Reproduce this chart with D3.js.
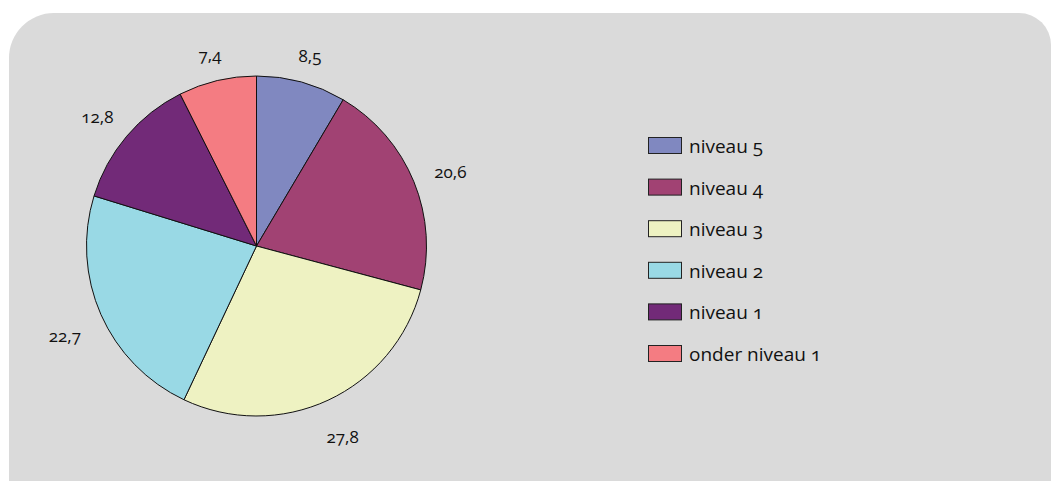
<!DOCTYPE html>
<html>
<head>
<meta charset="utf-8">
<script src="https://cdn.jsdelivr.net/npm/d3@7"></script>
<style>
  html, body { margin: 0; padding: 0; background: #ffffff; }
  svg { display: block; }
  text { font-family: "Open Sans", "DejaVu Sans", sans-serif; fill: #111; font-feature-settings: "onum"; }
</style>
</head>
<body>
<svg id="chart" width="1051" height="481"></svg>
<script>
// Share of pupils per proficiency level (percent)
const categories = ["niveau 5", "niveau 4", "niveau 3", "niveau 2", "niveau 1", "onder niveau 1"];
const values = [8.5, 20.6, 27.8, 22.7, 12.8, 7.4];
const valueLabels = ["8,5", "20,6", "27,8", "22,7", "12,8", "7,4"];
const colors = ["#8088c0", "#a14273", "#eef2c2", "#99d9e5", "#722a78", "#f47c82"];

const W = 1051, H = 481;
const svg = d3.select("#chart");

// Grey panel with rounded top corners
const px = 9, py = 13, rTL = 45, rTR = 32;
const panel = d3.path();
panel.moveTo(px, H);
panel.lineTo(px, py + rTL);
panel.arcTo(px, py, px + rTL, py, rTL);
panel.lineTo(W - rTR, py);
panel.arcTo(W, py, W, py + rTR, rTR);
panel.lineTo(W, H);
panel.closePath();
svg.append("path").attr("d", panel.toString()).attr("fill", "#dadada");

// Pie
const cx = 256.5, cy = 246, R = 170;
const pie = d3.pie().sort(null).value(d => d.v);
const data = categories.map((c, i) => ({ c, v: values[i], lab: valueLabels[i], col: colors[i] }));
const arcs = pie(data);
const arc = d3.arc().innerRadius(0).outerRadius(R);

const g = svg.append("g").attr("transform", `translate(${cx},${cy})`);
g.selectAll("path.slice")
  .data(arcs)
  .join("path")
  .attr("class", "slice")
  .attr("d", arc)
  .attr("fill", d => d.data.col)
  .attr("stroke", "#111")
  .attr("stroke-width", 1)
  .attr("stroke-linejoin", "round");

// Value labels placed outside each slice, pushed out by the label box size
const halfW = 17, halfH = 7, gap = 21, labelShiftY = 6;
g.selectAll("text.val")
  .data(arcs)
  .join("text")
  .attr("class", "val")
  .attr("text-anchor", "middle")
  .attr("font-size", 17)
  .attr("dy", "0.32em")
  .each(function (d) {
    const a = (d.startAngle + d.endAngle) / 2;
    const s = Math.sin(a), c = -Math.cos(a);
    const dist = R + gap + halfW * Math.abs(s) + halfH * Math.abs(c);
    d3.select(this).attr("x", s * dist).attr("y", c * dist + labelShiftY);
  })
  .text(d => d.data.lab);

// Legend
const lx = 648, ly = 137, step = 41.6, sw = 33, sh = 16;
const legend = svg.append("g");
const rows = legend.selectAll("g")
  .data(data)
  .join("g")
  .attr("transform", (d, i) => `translate(${lx},${ly + i * step})`);
rows.append("rect")
  .attr("x", 0.5).attr("y", 0.5)
  .attr("width", sw).attr("height", sh)
  .attr("fill", d => d.col)
  .attr("stroke", "#222")
  .attr("stroke-width", 1);
rows.append("text")
  .attr("x", 41)
  .attr("y", sh)
  .attr("font-size", 19)
  .text(d => d.c);
</script>
</body>
</html>
